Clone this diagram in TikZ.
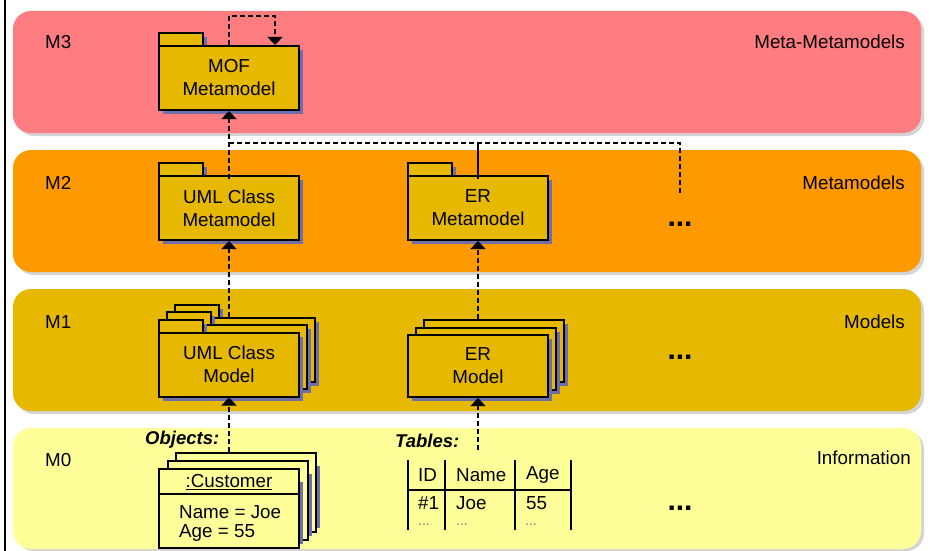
\documentclass[tikz,border=0pt]{standalone}
\usepackage{fontspec}
\setmainfont{Liberation Sans}
\usetikzlibrary{arrows.meta}
\definecolor{bandA}{HTML}{FF7C80}
\definecolor{bandB}{HTML}{FF9900}
\definecolor{bandC}{HTML}{E6B800}
\definecolor{bandD}{HTML}{FFFF99}
\definecolor{pkgfill}{HTML}{E6B800}
\definecolor{pkgshade}{HTML}{6E6EA8}
\definecolor{bandshade}{HTML}{D4D4D4}
\newcommand\pkgat[4]{%
  \fill[pkgshade] (#2-66,#3-41) rectangle (#2-22,#3-28);
  \fill[pkgshade] (#2-66,#3-28) rectangle (#2+74,#3+36);
  \draw[pkgline] (#2-70,#3-45) rectangle (#2-26,#3-32);
  \node[pkgbody] (#1) at (#2,#3) {#4};
}
\newcommand\boxat[5]{% name, cx, cy, style, text
  \fill[pkgshade] (#2-66,#3-27) rectangle (#2+74,#3+35);
  \node[#4] (#1) at (#2,#3) {#5};
}
\begin{document}
\begin{tikzpicture}[x=1pt,y=-1pt,
  font=\fontsize{18.8}{23}\selectfont,
  band/.style={rounded corners=18pt, minimum width=908pt, minimum height=122pt, inner sep=0pt, draw=none},
  bandsh/.style={fill=bandshade, rounded corners=18pt},
  pkgline/.style={draw=black, line width=2pt, fill=pkgfill},
  pkgbody/.style={pkgline, minimum width=140pt, minimum height=64pt, align=center, inner sep=0pt},
  modelbox/.style={pkgline, minimum width=140pt, minimum height=62pt, align=center, inner sep=0pt},
  objbox/.style={draw=black, line width=2pt, fill=bandD, minimum width=140pt, minimum height=79pt, inner sep=0pt},
  dep/.style={line width=1.2pt, dash pattern=on 5pt off 3pt, -{Triangle[width=15pt,length=8pt]}},
  dashline/.style={line width=1.2pt, dash pattern=on 5pt off 3pt},
  solidline/.style={line width=1.2pt},
  lbl/.style={anchor=west, inner sep=0pt},
  rlbl/.style={anchor=east, inner sep=0pt},
  dots/.style={font=\bfseries\fontsize{30}{30}\selectfont, inner sep=0pt},
  heading/.style={anchor=west, inner sep=0pt, font=\bfseries\itshape\fontsize{18.5}{23}\selectfont},
  tbl/.style={line width=1.5pt},
  cell/.style={anchor=west, inner sep=0pt},
  tinydots/.style={anchor=west, inner sep=0pt, font=\fontsize{14}{14}\selectfont, text=black!55}
]
\useasboundingbox (0,0) rectangle (951,551);
\fill[white] (0,0) rectangle (951,551);
\draw[line width=2pt] (5,0) -- (5,551);

% bands
\fill[bandsh] (16,14) rectangle (924,136);
\fill[bandsh] (16,153) rectangle (924,275);
\fill[bandsh] (16,292) rectangle (924,414);
\fill[bandsh] (16,431) rectangle (924,551);
\node[band, fill=bandA] (m3) at (467,72) {};
\node[band, fill=bandB] (m2) at (467,211) {};
\node[band, fill=bandC] (m1) at (467,350) {};
\node[band, fill=bandD, minimum height=121pt] (m0) at (467,488.5) {};

\node[lbl] (l3) at (45,42) {M3};
\node[lbl] (l2) at (45,183) {M2};
\node[lbl] (l1) at (45,322) {M1};
\node[lbl] (l0) at (45,460) {M0};
\node[rlbl] (r3) at (905,42) {Meta-Metamodels};
\node[rlbl] (r2) at (905,183) {Metamodels};
\node[rlbl] (r1) at (905,322) {Models};
\node[rlbl] (r0) at (911,458) {Information};

% M3
\pkgat{mof}{229}{78}{MOF\\Metamodel}
% M2
\pkgat{umlmeta}{229}{208}{UML Class\\Metamodel}
\pkgat{ermeta}{478}{208}{ER\\Metamodel}
\node[dots] (dots2) at (680,224) {...};
% M1
\pkgat{umlmB}{245}{349.5}{}
\pkgat{umlmM}{237}{357}{}
\pkgat{umlm}{229}{364.5}{UML Class\\Model}
\boxat{ermB}{494}{351}{modelbox}{}
\boxat{ermM}{486}{358.5}{modelbox}{}
\boxat{erm}{478}{366}{modelbox}{ER\\Model}
\node[dots] (dots1) at (680,357) {...};
% M0
\node[heading] (objh) at (145,440) {Objects:};
\node[heading] (tabh) at (395,441) {Tables:};
\boxat{objB}{246}{492.5}{objbox}{}
\boxat{objM}{237.5}{500.5}{objbox}{}
\boxat{obj}{229}{508.5}{objbox}{}
\coordinate (sep) at (0,494);
\draw[line width=1.2pt] (obj.west |- sep) -- (obj.east |- sep);
\node (cust) at (229,482) {\underline{:Customer}};
\node[cell] (attn) at (179,512) {Name = Joe};
\node[cell] (atta) at (179,533) {Age = 55};

% table
\draw[tbl] (408,460) -- (408,530);
\draw[tbl] (445,460) -- (445,530);
\draw[tbl] (515,460) -- (515,530);
\draw[tbl] (571,460) -- (571,530);
\draw[tbl] (408,490) -- (571,490);
\node[cell] (h1) at (418,475) {ID};
\node[cell] (h2) at (456,475) {Name};
\node[cell] (h3) at (526,475) {Age};
\node[cell] (c1) at (418,503) {\#1};
\node[cell] (c2) at (456,503) {Joe};
\node[cell] (c3) at (526,503) {55};
\node[tinydots] (d1) at (418,525) {...};
\node[tinydots] (d2) at (456,525) {...};
\node[tinydots] (d3) at (525,525) {...};
\node[dots] (dots0) at (680,508) {...};

% connectors
\draw[dep] (mof.north) -- ++(0,-29) -| ([xshift=46pt]mof.north);
\coordinate (busL) at (229,143);
\coordinate (busR) at (680,143);
\coordinate (more2) at (680,193);
\draw[dashline] (busL) -- (busR) -- (more2);
\draw[dep] ([yshift=-4pt]umlmeta.north) -- (mof.south);
\draw[solidline] (ermeta.north |- busL) -- ([yshift=-4pt]ermeta.north);
\draw[dep] (umlmeta.south |- umlmB.north) -- (umlmeta.south);
\draw[dep] (ermeta.south |- ermB.north) -- (ermeta.south);
\draw[dep] (umlm.south |- objB.north) -- (umlm.south);
\coordinate (tabtop) at (478,450);
\draw[dep] (tabtop) -- (erm.south);
\end{tikzpicture}
\end{document}
